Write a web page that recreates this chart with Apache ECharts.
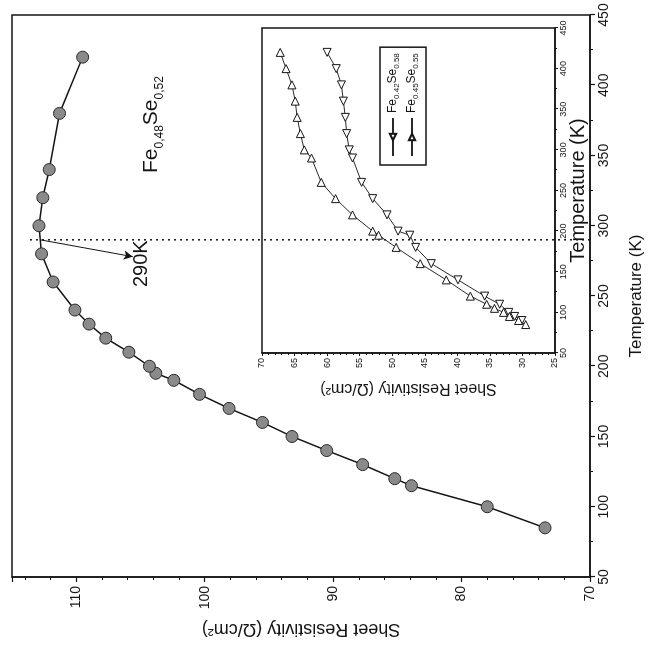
<!DOCTYPE html>
<html>
<head>
<meta charset="utf-8">
<title>Sheet resistivity vs temperature</title>
<script src="https://cdn.jsdelivr.net/npm/echarts@6/dist/echarts.min.js"></script>
<style>
html, body { margin: 0; padding: 0; background: #fff; overflow: hidden; width: 650px; height: 649px; }
/* the scanned figure is turned a quarter turn, so the chart is drawn upright and then rotated */
#chart { position: absolute; left: 0; top: 0; width: 649px; height: 650px;
         transform-origin: 0 0; transform: translate(0, 649px) rotate(-90deg); }
</style>
</head>
<body>
<div id="chart"></div>
<script>
var font = 'Liberation Sans, Arial, sans-serif';

// main panel: Fe0,48Se0,52
var mainTemp = [85, 100, 115, 120, 130, 140, 150, 160, 170, 180, 190, 195, 200, 210, 220, 230, 240, 260, 280, 300, 320, 340, 380, 420];
var mainRes  = [73.5, 78.0, 83.9, 85.2, 87.7, 90.5, 93.2, 95.5, 98.1, 100.4, 102.4, 103.8, 104.3, 105.9, 107.7, 109.0, 110.1, 111.8, 112.7, 112.9, 112.6, 112.1, 111.3, 109.5];

// inset: Fe0.45Se0.55 (up triangles)
var insetTempA = [85, 90, 95, 100, 105, 110, 120, 140, 160, 180, 195, 200, 220, 240, 260, 290, 300, 320, 340, 360, 380, 400, 420];
var insetResA  = [29.5, 30.6, 32.0, 32.9, 34.3, 35.5, 38.0, 41.7, 45.7, 49.4, 52.1, 53.0, 56.1, 58.7, 60.9, 62.4, 63.5, 64.1, 64.6, 64.9, 65.4, 66.3, 67.2];

// inset: Fe0.42Se0.58 (down triangles)
var insetTempB = [90, 95, 100, 110, 120, 140, 160, 180, 195, 200, 220, 240, 260, 290, 300, 320, 340, 360, 380, 400, 420];
var insetResB  = [30.1, 31.2, 32.1, 33.5, 35.8, 39.9, 44.0, 46.4, 47.3, 49.1, 50.8, 53.0, 54.7, 56.1, 56.6, 57.0, 57.2, 57.5, 57.8, 58.6, 60.0];

var peakTemp = 290;
var nameA = 'Fe0.45Se0.55';
var nameB = 'Fe0.42Se0.58';

function pairs(xs, ys) {
    return xs.map(function (x, i) { return [x, ys[i]]; });
}

var ink = '#151515';

function axisBase(fs) {
    return {
        axisLine: { lineStyle: { color: ink, width: 1.5 } },
        axisTick: { length: 5, lineStyle: { color: ink, width: 1.2 } },
        minorTick: { show: true, length: 3, lineStyle: { color: ink, width: 1 } },
        splitLine: { show: false },
        axisLabel: { color: ink, fontSize: fs, fontFamily: font }
    };
}

var chart = echarts.init(document.getElementById('chart'));

var option = {
    backgroundColor: '#fff',
    animation: false,
    grid: [
        { left: 72, right: 15, top: 12, bottom: 54, show: true, borderColor: ink, borderWidth: 1.5 },
        { left: 296, right: 28, top: 262, bottom: 95, show: true, borderColor: ink, borderWidth: 1.5 }
    ],
    xAxis: [
        Object.assign(axisBase(14), {
            type: 'value', gridIndex: 0, min: 50, max: 450, interval: 50,
            minorTick: { show: true, splitNumber: 2, length: 3, lineStyle: { color: ink } },
            name: 'Temperature (K)', nameLocation: 'middle', nameGap: 38,
            nameTextStyle: { color: ink, fontSize: 17, fontFamily: font },
            axisLabel: { color: ink, fontSize: 14, fontFamily: font, margin: 7 }
        }),
        Object.assign(axisBase(9), {
            type: 'value', gridIndex: 1, min: 50, max: 450, interval: 50,
            axisTick: { length: 3, lineStyle: { color: ink } },
            minorTick: { show: true, splitNumber: 2, length: 2, lineStyle: { color: ink } },
            name: 'Temperature (K)', nameLocation: 'middle', nameGap: 8,
            nameTextStyle: { color: ink, fontSize: 20, fontFamily: font },
            axisLabel: { color: ink, fontSize: 9, fontFamily: font, margin: 4 }
        })
    ],
    yAxis: [
        Object.assign(axisBase(14), {
            type: 'value', gridIndex: 0, min: 70, max: 115, interval: 10,
            minorTick: { show: true, splitNumber: 5, length: 3, lineStyle: { color: ink } },
            name: 'Sheet Resistivity (Ω/cm²)', nameLocation: 'middle', nameGap: 42, nameRotate: 90,
            nameTextStyle: { color: ink, fontSize: 18, fontFamily: font },
            axisLabel: { color: ink, fontSize: 14, fontFamily: font, margin: 9, showMaxLabel: false }
        }),
        Object.assign(axisBase(9), {
            type: 'value', gridIndex: 1, min: 25, max: 70, interval: 5,
            axisTick: { length: 3, lineStyle: { color: ink } },
            minorTick: { show: true, splitNumber: 5, length: 2, lineStyle: { color: ink } },
            name: 'Sheet Resistivity (Ω/cm²)', nameLocation: 'middle', nameGap: 27, nameRotate: 90,
            nameTextStyle: { color: ink, fontSize: 16, fontFamily: font },
            axisLabel: { color: ink, fontSize: 9, fontFamily: font, margin: 5 }
        })
    ],
    legend: {
        data: [nameB, nameA],
        orient: 'vertical',
        left: 484, top: 380,
        padding: [6, 6, 6, 8],
        itemGap: 4,
        itemWidth: 38, itemHeight: 8,
        borderColor: ink, borderWidth: 1.5,
        formatter: function (n) {
            var m = n.match(/Fe(\S+?)Se(\S+)/);
            return '{n|Fe}{s|' + m[1] + '}{n|Se}{s|' + m[2] + '}';
        },
        textStyle: {
            color: ink, fontFamily: font,
            rich: {
                n: { fontSize: 12, lineHeight: 16, fontFamily: font, color: ink },
                s: { fontSize: 8, lineHeight: 16, fontFamily: font, color: ink, verticalAlign: 'bottom', padding: [7, 0, 0, 0] }
            }
        }
    },
    series: [
        {
            name: 'Fe0,48Se0,52', type: 'line', xAxisIndex: 0, yAxisIndex: 0,
            data: pairs(mainTemp, mainRes),
            symbol: 'circle', symbolSize: 12, z: 4,
            itemStyle: { color: '#8a8a8a', borderColor: '#2a2a2a', borderWidth: 1 },
            lineStyle: { color: ink, width: 1.5 },
            markLine: {
                silent: true, symbol: ['none', 'arrow'], symbolSize: [7, 9],
                lineStyle: { color: ink, width: 1, type: 'solid' },
                label: { show: false },
                data: [[{ coord: [peakTemp, 112.8] }, { coord: [278, 105.6] }]]
            }
        },
        {
            name: 'peak', type: 'line', xAxisIndex: 0, yAxisIndex: 0,
            data: [[peakTemp, 70], [peakTemp, 113.6]],
            symbol: 'none', z: 2,
            lineStyle: { color: ink, width: 1.5, type: [2, 4] }
        },
        {
            name: nameB, type: 'line', xAxisIndex: 1, yAxisIndex: 1,
            data: pairs(insetTempB, insetResB),
            symbol: 'triangle', symbolSize: 8, symbolRotate: 90,
            itemStyle: { color: '#fff', borderColor: ink, borderWidth: 1 },
            lineStyle: { color: '#2a2a2a', width: 1 }
        },
        {
            name: nameA, type: 'line', xAxisIndex: 1, yAxisIndex: 1,
            data: pairs(insetTempA, insetResA),
            symbol: 'triangle', symbolSize: 8, symbolRotate: -90,
            itemStyle: { color: '#fff', borderColor: ink, borderWidth: 1 },
            lineStyle: { color: '#2a2a2a', width: 1 }
        }
    ],
    graphic: [
        {
            type: 'text', left: 476, top: 140,
            style: {
                text: '{n|Fe}{s|0,48}{n|Se}{s|0,52}',
                fill: ink,
                rich: {
                    n: { fontSize: 21, lineHeight: 30, fontFamily: font, fill: ink },
                    s: { fontSize: 12, lineHeight: 30, fontFamily: font, fill: ink, verticalAlign: 'bottom', padding: [14, 0, 0, 0] }
                }
            }
        },
        {
            type: 'text', left: 362, top: 131,
            style: { text: '290K', fontSize: 20, fontFamily: font, fill: ink }
        }
    ]
};

chart.setOption(option);
</script>
</body>
</html>
